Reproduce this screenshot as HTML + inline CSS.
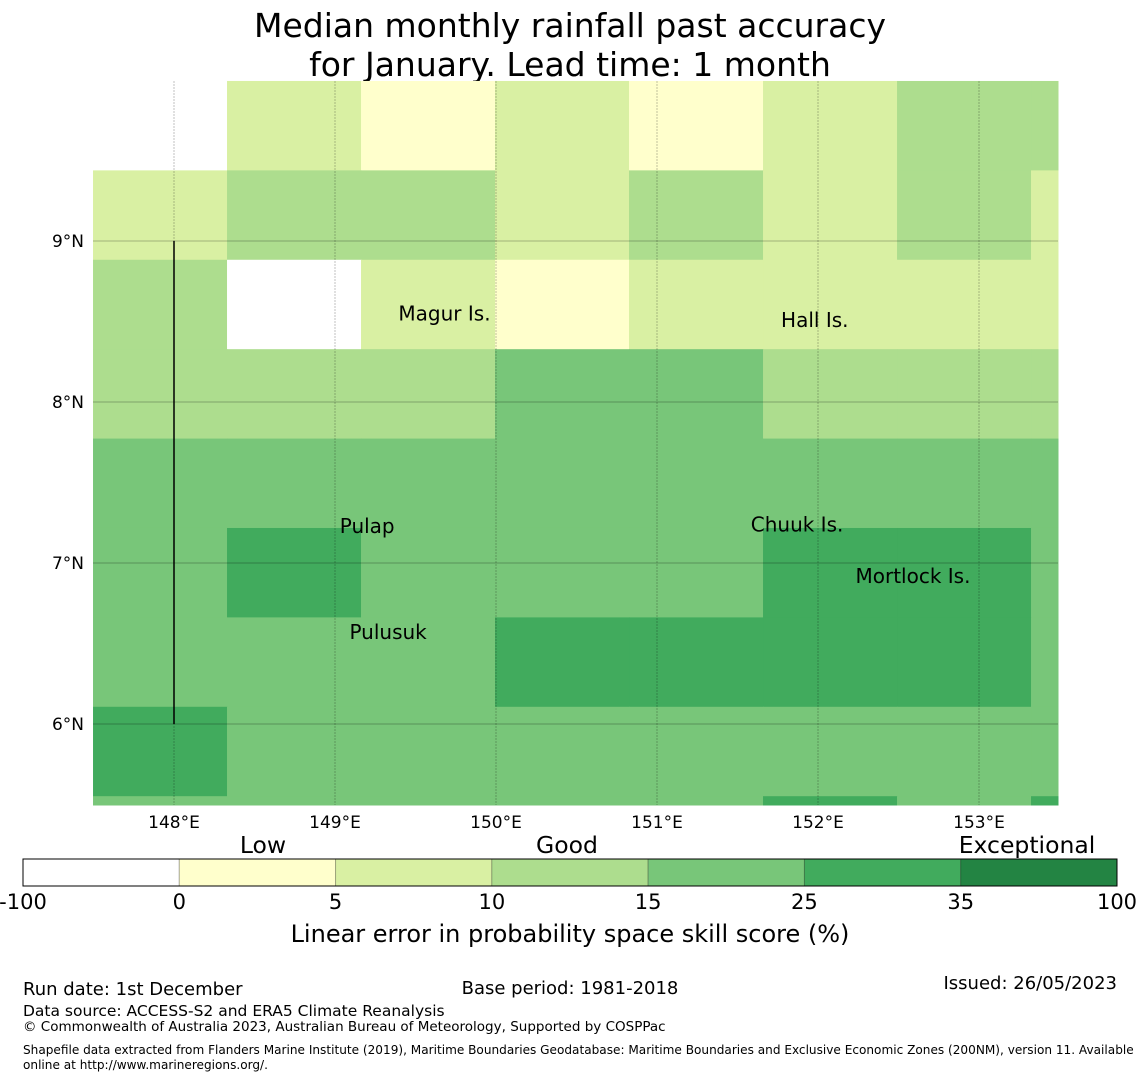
<!DOCTYPE html>
<html><head><meta charset="utf-8"><style>
body{margin:0;background:#fff;font-family:"DejaVu Sans","Liberation Sans",sans-serif;}
svg text{font-family:"DejaVu Sans","Liberation Sans",sans-serif;}
</style></head><body>
<svg id="chart" width="1140" height="1080" xmlns="http://www.w3.org/2000/svg">
<text x="570" y="37" font-size="33" text-anchor="middle">Median monthly rainfall past accuracy</text>
<text x="570" y="76" font-size="33" text-anchor="middle">for January. Lead time: 1 month</text>
<g id="cells"></g>
<g id="grid"></g>
<g id="labels"></g>
<g id="cbar"></g>
<text x="570" y="942" font-size="24" text-anchor="middle">Linear error in probability space skill score (%)</text>
<text x="23" y="995" font-size="18">Run date: 1st December</text>
<text x="570" y="994" font-size="18" text-anchor="middle">Base period: 1981-2018</text>
<text x="1117" y="989" font-size="18" text-anchor="end">Issued: 26/05/2023</text>
<text x="23" y="1016" font-size="15.5">Data source: ACCESS-S2 and ERA5 Climate Reanalysis</text>
<text x="23" y="1031" font-size="13.5">© Commonwealth of Australia 2023, Australian Bureau of Meteorology, Supported by COSPPac</text>
<text x="23" y="1054" font-size="12.1">Shapefile data extracted from Flanders Marine Institute (2019), Maritime Boundaries Geodatabase: Maritime Boundaries and Exclusive Economic Zones (200NM), version 11. Available</text>
<text x="23" y="1069" font-size="12.1">online at http://www.marineregions.org/.</text>
</svg>
<script>
const NS="http://www.w3.org/2000/svg";
const colors=["#ffffff","#ffffcc","#d9f0a3","#addd8e","#78c679","#41ab5d","#238443"];
const cbTicks=["-100","0","5","10","15","25","35","100"];
const grid0=[0,2,1,2,1,2,3,3];
const grid1=[2,3,3,2,3,2,3,2];
const grid2=[3,0,2,1,2,2,2,2];
const grid3=[3,3,3,4,4,3,3,3];
const grid4=[4,4,4,4,4,4,4,4];
const grid5=[4,5,4,4,4,5,5,4];
const grid6=[4,4,4,5,5,5,5,4];
const grid7=[5,4,4,4,4,4,4,4];
const grid8=[4,4,4,4,4,5,4,5];
const rows=[grid0,grid1,grid2,grid3,grid4,grid5,grid6,grid7,grid8];
const lonTicks=[148,149,150,151,152,153];
const latTicks=[9,8,7,6];
const places=[["Magur Is.",149.68,8.55],["Hall Is.",151.98,8.51],["Pulap",149.2,7.23],["Chuuk Is.",151.87,7.24],["Mortlock Is.",152.59,6.92],["Pulusuk",149.33,6.57]];
const X0=93,X1=1058,Y0=81,Y1=805;
const xs=lon=>174+(lon-148)*161;
const ys=lat=>241-(lat-9)*161;
const lon0=147.497,dLon=0.8323,lat0=9.994,dLat=0.5553;
function el(t,a,p){const e=document.createElementNS(NS,t);for(const k in a)e.setAttribute(k,a[k]);p.appendChild(e);return e;}
const cells=document.getElementById('cells');
rows.forEach((r,i)=>r.forEach((v,j)=>{
 const x=xs(lon0+j*dLon), y=ys(lat0-i*dLat);
 const x2=Math.min(X1,xs(lon0+(j+1)*dLon)), y2=Math.min(Y1,ys(lat0-(i+1)*dLat));
 const c=el('rect',{x:x,y:y,width:x2-x+0.5,height:y2-y+0.5,fill:colors[v]},cells);
 
 
}));
const g=document.getElementById('grid');
lonTicks.forEach(l=>{const x=xs(l);
 const ln=el('line',{x1:x,x2:x,y1:Y0,y2:Y1,stroke:"#000","stroke-opacity":0.4,"stroke-width":0.6,"stroke-dasharray":"2,1"},g);
 
 const t=el('text',{x:x,y:Y1+23,"font-size":17,"text-anchor":"middle"},g);t.textContent=l+"°E";
 });
latTicks.forEach(l=>{const y=ys(l);
 const ln=el('line',{x1:X0,x2:X1,y1:y,y2:y,stroke:"#000","stroke-opacity":0.35,"stroke-width":0.7},g);
 
 const t=el('text',{x:X0-9,y:y+6,"font-size":17,"text-anchor":"end"},g);t.textContent=l+"°N";
 });
const bl=el('line',{x1:174,x2:174,y1:241,y2:724,stroke:"#000","stroke-width":1.5},g);

const lb=document.getElementById('labels');
places.forEach(p=>{const t=el('text',{x:xs(p[1]),y:ys(p[2])+7,"font-size":20,"text-anchor":"middle"},lb);t.textContent=p[0];
 });
const cb=document.getElementById('cbar');
const cbX=23,cbW=1094,cbY=859,cbH=27,n=colors.length,sw=cbW/n;
colors.forEach((c,i)=>{const r=el('rect',{x:cbX+i*sw,y:cbY,width:sw,height:cbH,fill:c,stroke:"rgba(0,0,0,0.25)","stroke-width":1},cb);
 });
el('rect',{x:cbX,y:cbY,width:cbW,height:cbH,fill:"none",stroke:"#000","stroke-width":1},cb);
cbTicks.forEach((t,i)=>{const e=el('text',{x:cbX+i*sw,y:909,"font-size":21,"text-anchor":"middle"},cb);e.textContent=t;
 });
[["Low",263],["Good",567],["Exceptional",1027]].forEach(a=>{const e=el('text',{x:a[1],y:853,"font-size":23.5,"text-anchor":"middle"},cb);e.textContent=a[0];
 });
</script>
</body></html>
